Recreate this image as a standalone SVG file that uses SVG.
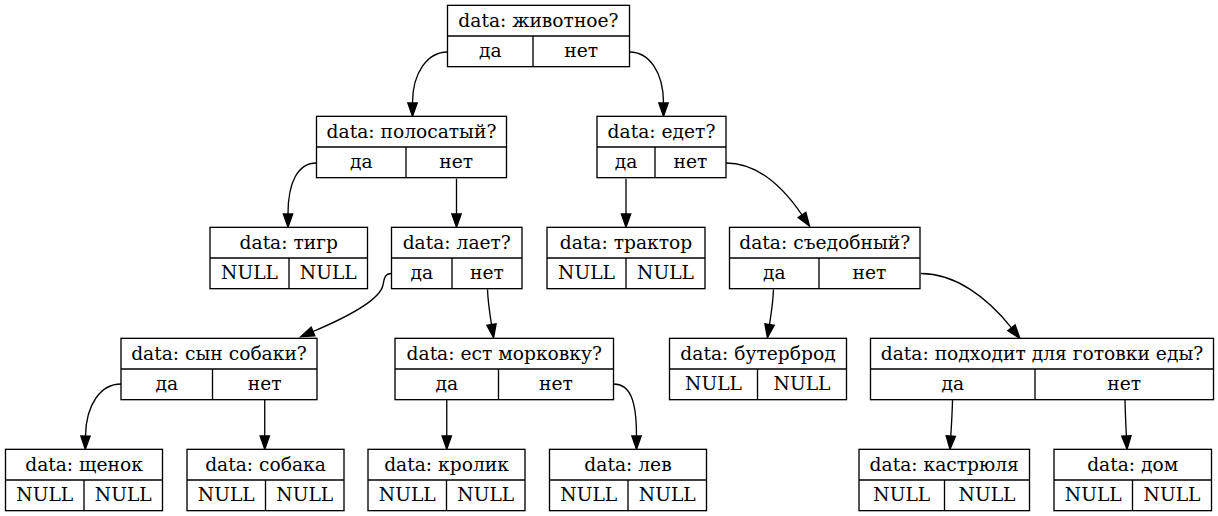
<svg xmlns="http://www.w3.org/2000/svg" width="1218" height="516" viewBox="0 0 1218 516">
<style>
g.node rect{fill:#fff;stroke:#000;stroke-width:1.33}
g.node line{fill:none;stroke:#000;stroke-width:1.33}
text{font-family:"DejaVu Serif","Liberation Serif",serif;font-size:18.67px;text-anchor:middle;fill:#000}
#edges path{fill:none;stroke:#000;stroke-width:1.33;marker-end:url(#ah)}
</style>
<defs>
<marker id="ah" markerUnits="userSpaceOnUse" markerWidth="16" markerHeight="12" refX="0" refY="0" viewBox="0 -6 16 12" orient="auto" overflow="visible">
<polygon points="0,-4.67 13.33,0 0,4.67" fill="#000" stroke="#000" stroke-width="1.33"/>
</marker>
</defs>
<rect width="1218" height="516" style="fill:#fff;stroke:none"/>
<g id="edges">
<path d="M447.5,52 C428,52 412.5,72 412.5,103"/>
<path d="M629.5,52 C649,52 663.5,72 663.5,103"/>
<path d="M316.5,163 C298,163 288,182 288,214"/>
<path d="M456.5,178.7 L456.5,214"/>
<path d="M626,178.7 L626,214"/>
<path d="M726,163 C760,163 785,190 802,215"/>
<path d="M391.5,273.5 C384,273.5 384,280 383,285 C380,300 345,318 313,331.5"/>
<path d="M487.5,289.5 C488,302 489.5,312 491.5,324.6"/>
<path d="M773.5,289.5 C773,302 771.5,312 769.5,324.6"/>
<path d="M921,273.5 C955,273.5 987,297 1011.5,327.8"/>
<path d="M121,384 C101,384 86,404 85.5,436"/>
<path d="M264.75,399.7 L264.75,436"/>
<path d="M446.75,399.7 L446.75,436"/>
<path d="M613.5,384 C630,384 636.5,400 636.5,436"/>
<path d="M952.5,399.7 C952.3,412 951.5,424 950.8,436"/>
<path d="M1125,399.7 C1125.2,412 1125.8,424 1126.4,436"/>
</g>
<g id="n_root" class="node">
<rect x="447.5" y="5.33" width="182" height="61.33"/>
<line x1="447.5" y1="36" x2="629.5" y2="36"/>
<line x1="533" y1="36" x2="533" y2="66.67"/>
<text x="538.5" y="26.7">data: животное?</text>
<text x="490.25" y="57.3">да</text>
<text x="581.25" y="57.3">нет</text>
</g>
<g id="n_polos" class="node">
<rect x="316.5" y="116.33" width="190" height="61.33"/>
<line x1="316.5" y1="147" x2="506.5" y2="147"/>
<line x1="406" y1="147" x2="406" y2="177.67"/>
<text x="411.5" y="137.7">data: полосатый?</text>
<text x="361.25" y="168.3">да</text>
<text x="456.25" y="168.3">нет</text>
</g>
<g id="n_edet" class="node">
<rect x="597" y="116.33" width="129" height="61.33"/>
<line x1="597" y1="147" x2="726" y2="147"/>
<line x1="655" y1="147" x2="655" y2="177.67"/>
<text x="661.5" y="137.7">data: едет?</text>
<text x="626" y="168.3">да</text>
<text x="690.5" y="168.3">нет</text>
</g>
<g id="n_tigr" class="node">
<rect x="210" y="227.33" width="157.5" height="61.33"/>
<line x1="210" y1="258" x2="367.5" y2="258"/>
<line x1="289" y1="258" x2="289" y2="288.67"/>
<text x="288.75" y="248.7">data: тигр</text>
<text x="249.5" y="279.3">NULL</text>
<text x="328.25" y="279.3">NULL</text>
</g>
<g id="n_laet" class="node">
<rect x="391.5" y="227.33" width="130.5" height="61.33"/>
<line x1="391.5" y1="258" x2="522" y2="258"/>
<line x1="452" y1="258" x2="452" y2="288.67"/>
<text x="456.75" y="248.7">data: лает?</text>
<text x="421.75" y="279.3">да</text>
<text x="487" y="279.3">нет</text>
</g>
<g id="n_traktor" class="node">
<rect x="547" y="227.33" width="158" height="61.33"/>
<line x1="547" y1="258" x2="705" y2="258"/>
<line x1="626" y1="258" x2="626" y2="288.67"/>
<text x="626" y="248.7">data: трактор</text>
<text x="586.5" y="279.3">NULL</text>
<text x="665.5" y="279.3">NULL</text>
</g>
<g id="n_sedob" class="node">
<rect x="729.5" y="227.33" width="190.5" height="61.33"/>
<line x1="729.5" y1="258" x2="920" y2="258"/>
<line x1="819" y1="258" x2="819" y2="288.67"/>
<text x="824.75" y="248.7">data: съедобный?</text>
<text x="774.25" y="279.3">да</text>
<text x="869.5" y="279.3">нет</text>
</g>
<g id="n_synsob" class="node">
<rect x="121" y="338.33" width="196" height="61.33"/>
<line x1="121" y1="369" x2="317" y2="369"/>
<line x1="212.5" y1="369" x2="212.5" y2="399.67"/>
<text x="219" y="359.7">data: сын собаки?</text>
<text x="166.75" y="390.3">да</text>
<text x="264.75" y="390.3">нет</text>
</g>
<g id="n_morkov" class="node">
<rect x="395" y="338.33" width="218.5" height="61.33"/>
<line x1="395" y1="369" x2="613.5" y2="369"/>
<line x1="498.5" y1="369" x2="498.5" y2="399.67"/>
<text x="504.25" y="359.7">data: ест морковку?</text>
<text x="446.75" y="390.3">да</text>
<text x="556" y="390.3">нет</text>
</g>
<g id="n_buter" class="node">
<rect x="669.5" y="338.33" width="177" height="61.33"/>
<line x1="669.5" y1="369" x2="846.5" y2="369"/>
<line x1="757.5" y1="369" x2="757.5" y2="399.67"/>
<text x="758" y="359.7">data: бутерброд</text>
<text x="713.5" y="390.3">NULL</text>
<text x="802" y="390.3">NULL</text>
</g>
<g id="n_podhod" class="node">
<rect x="870.5" y="338.33" width="343" height="61.33"/>
<line x1="870.5" y1="369" x2="1213.5" y2="369"/>
<line x1="1035" y1="369" x2="1035" y2="399.67"/>
<text x="1042" y="359.7">data: подходит для готовки еды?</text>
<text x="952.75" y="390.3">да</text>
<text x="1124.25" y="390.3">нет</text>
</g>
<g id="n_schenok" class="node">
<rect x="5.5" y="449.33" width="157" height="61.33"/>
<line x1="5.5" y1="480" x2="162.5" y2="480"/>
<line x1="84" y1="480" x2="84" y2="510.67"/>
<text x="84" y="470.7">data: щенок</text>
<text x="44.75" y="501.3">NULL</text>
<text x="123.25" y="501.3">NULL</text>
</g>
<g id="n_sobaka" class="node">
<rect x="187" y="449.33" width="157" height="61.33"/>
<line x1="187" y1="480" x2="344" y2="480"/>
<line x1="265.5" y1="480" x2="265.5" y2="510.67"/>
<text x="265.5" y="470.7">data: собака</text>
<text x="226.25" y="501.3">NULL</text>
<text x="304.75" y="501.3">NULL</text>
</g>
<g id="n_krolik" class="node">
<rect x="368" y="449.33" width="157" height="61.33"/>
<line x1="368" y1="480" x2="525" y2="480"/>
<line x1="446.5" y1="480" x2="446.5" y2="510.67"/>
<text x="446.5" y="470.7">data: кролик</text>
<text x="407.25" y="501.3">NULL</text>
<text x="485.75" y="501.3">NULL</text>
</g>
<g id="n_lev" class="node">
<rect x="549.5" y="449.33" width="157" height="61.33"/>
<line x1="549.5" y1="480" x2="706.5" y2="480"/>
<line x1="628" y1="480" x2="628" y2="510.67"/>
<text x="628" y="470.7">data: лев</text>
<text x="588.75" y="501.3">NULL</text>
<text x="667.25" y="501.3">NULL</text>
</g>
<g id="n_kastr" class="node">
<rect x="859" y="449.33" width="170.5" height="61.33"/>
<line x1="859" y1="480" x2="1029.5" y2="480"/>
<line x1="944.5" y1="480" x2="944.5" y2="510.67"/>
<text x="944.25" y="470.7">data: кастрюля</text>
<text x="901.75" y="501.3">NULL</text>
<text x="987" y="501.3">NULL</text>
</g>
<g id="n_dom" class="node">
<rect x="1054" y="449.33" width="157.5" height="61.33"/>
<line x1="1054" y1="480" x2="1211.5" y2="480"/>
<line x1="1132.5" y1="480" x2="1132.5" y2="510.67"/>
<text x="1132.75" y="470.7">data: дом</text>
<text x="1093.25" y="501.3">NULL</text>
<text x="1172" y="501.3">NULL</text>
</g>
</svg>
